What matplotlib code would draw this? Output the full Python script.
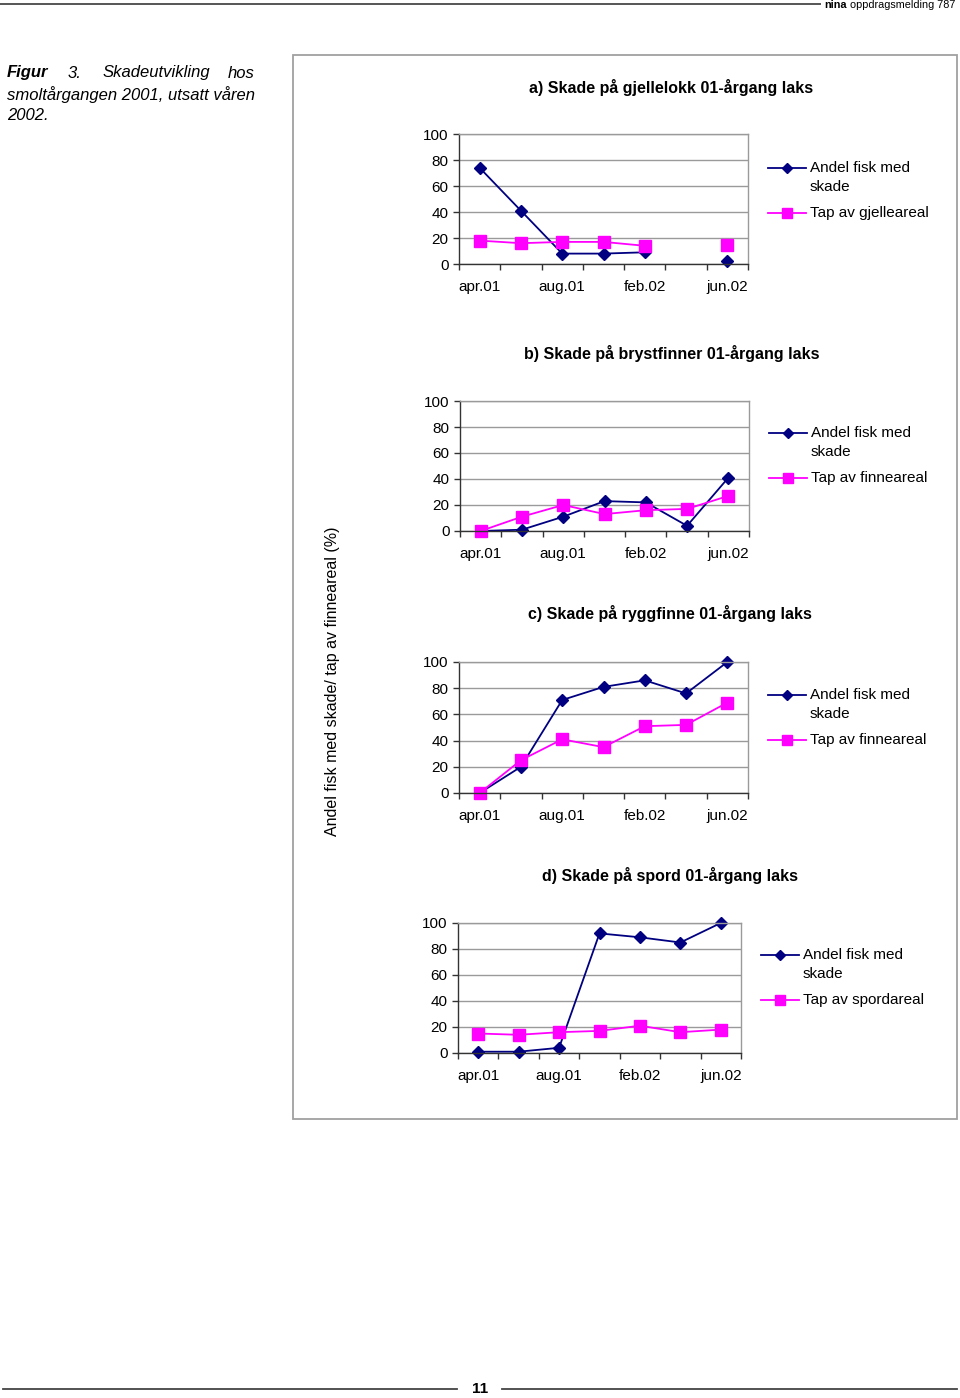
import matplotlib
matplotlib.use("Agg")
import matplotlib.pyplot as plt
import numpy as np
from matplotlib.patches import Rectangle
from matplotlib.lines import Line2D

plt.rcParams["font.family"] = ["Liberation Sans", "DejaVu Sans"]

W, H = 960, 1398

# ---- data ----
TICK_LABELS = ["apr.01", "", "aug.01", "", "feb.02", "", "jun.02"]
YTICKS = [0, 20, 40, 60, 80, 100]

gjelle_andel = [74, 41, 8, 8, 9, np.nan, 2]
gjelle_tap = [18, 16, 17, 17, 14, np.nan, 15]

bryst_andel = [0, 1, 11, 23, 22, 4, 41]
bryst_tap = [0, 11, 20, 13, 16, 17, 27]

rygg_andel = [0, 20, 71, 81, 86, 76, 100]
rygg_tap = [0, 25, 41, 35, 51, 52, 69]

spord_andel = [1, 1, 4, 92, 89, 85, 100]
spord_tap = [15, 14, 16, 17, 21, 16, 18]

ANDEL_LABEL = ["Andel fisk med", "skade"]

# title, series, tap label, axes box (px), title centre (px), legend (handle x0, text x, y)
PANELS = [
    ("a) Skade på gjellelokk 01-årgang laks", gjelle_andel, gjelle_tap,
     "Tap av gjelleareal", (459, 134, 748, 264), (671, 87), (768, 810, 168)),
    ("b) Skade på brystfinner 01-årgang laks", bryst_andel, bryst_tap,
     "Tap av finneareal", (460, 401, 749, 531), (672, 353), (769, 811, 433)),
    ("c) Skade på ryggfinne 01-årgang laks", rygg_andel, rygg_tap,
     "Tap av finneareal", (459, 662, 748, 793), (670, 614), (768, 810, 695)),
    ("d) Skade på spord 01-årgang laks", spord_andel, spord_tap,
     "Tap av spordareal", (458, 923, 741, 1053), (670, 875), (761, 803, 955)),
]

NAVY = "#000080"
PINK = "#FF00FF"
GRID = "#9a9a9a"


def fx(x):
    return x / W


def fy(y):
    return 1 - y / H


def rect(x0, y0, x1, y1):
    return [x0 / W, 1 - y1 / H, (x1 - x0) / W, (y1 - y0) / H]


def legend_handle(fig, x0, y, color, marker, ms):
    xs = [fx(x0), fx(x0 + 19), fx(x0 + 38)]
    fig.add_artist(Line2D(xs, [fy(y)] * 3, color=color, lw=1.3, marker=marker,
                          markersize=ms, markevery=[1], transform=fig.transFigure))


fig = plt.figure(figsize=(W / 100, H / 100), dpi=100)

# page header / footer
fig.add_artist(Line2D([fx(0), fx(820)], [fy(4), fy(4)], color="#555555", lw=1.4))
fig.text(fx(955), fy(5), "oppdragsmelding 787", ha="right", va="center", fontsize=7.8)
fig.text(fx(847), fy(5), "nina", ha="right", va="center", fontsize=7.8, fontweight="bold")

fig.add_artist(Line2D([fx(3), fx(457)], [fy(1389), fy(1389)], color="#444444", lw=1.3))
fig.add_artist(Line2D([fx(502), fx(957)], [fy(1389), fy(1389)], color="#444444", lw=1.3))
fig.text(fx(480), fy(1389), "11", ha="center", va="center", fontsize=11, fontweight="bold")

# caption
CAP = dict(va="center", fontsize=12, style="italic")
fig.text(fx(7), fy(73), "Figur", ha="left", fontweight="bold", **CAP)
fig.text(fx(68), fy(73), "3.", ha="left", **CAP)
fig.text(fx(103), fy(73), "Skadeutvikling", ha="left", **CAP)
fig.text(fx(255), fy(73), "hos", ha="right", **CAP)
fig.text(fx(7), fy(95), "smoltårgangen 2001, utsatt våren", ha="left", **CAP)
fig.text(fx(7), fy(116), "2002.", ha="left", **CAP)

# outer frame of the chart
fig.add_artist(Rectangle((fx(293), fy(1119)), fx(957) - fx(293), fy(55) - fy(1119),
                         transform=fig.transFigure, fill=False, edgecolor="#a0a0a0", lw=1.3))

fig.text(fx(332), fy(681), "Andel fisk med skade/ tap av finneareal (%)", rotation=90,
         ha="center", va="center", fontsize=11.5)

x = np.arange(len(TICK_LABELS))

for title, andel, tap, tap_label, box, title_xy, leg in PANELS:
    ax = fig.add_axes(rect(*box))
    ax.plot(x, andel, color=NAVY, marker="D", markersize=6.5, lw=1.3, clip_on=False)
    ax.plot(x, tap, color=PINK, marker="s", markersize=8.5, lw=1.3, clip_on=False)

    ax.set_xlim(-0.5, len(x) - 0.5)
    ax.set_ylim(0, 100)
    ax.set_yticks(YTICKS)
    ax.set_yticklabels([str(v) for v in YTICKS], fontsize=11)
    ax.tick_params(axis="y", length=4, width=1, color="#333333", pad=3.5)
    ax.set_xticks(np.arange(len(x) + 1) - 0.5)
    ax.set_xticklabels([])
    ax.tick_params(axis="x", which="major", length=4, width=1, color="#333333")
    ax.set_xticks(x, minor=True)
    ax.set_xticklabels(TICK_LABELS, minor=True, fontsize=11)
    ax.tick_params(axis="x", which="minor", length=0, pad=11.5)

    ax.grid(axis="y", color=GRID, lw=1)
    ax.set_axisbelow(True)
    for s in ("top", "right"):
        ax.spines[s].set_color(GRID)
        ax.spines[s].set_linewidth(1)
    for s in ("left", "bottom"):
        ax.spines[s].set_color("#333333")
        ax.spines[s].set_linewidth(1)

    fig.text(fx(title_xy[0]), fy(title_xy[1]), title, ha="center", va="center",
             fontsize=11.5, fontweight="bold")

    # legend, drawn the way the original spreadsheet laid it out
    hx, tx, ly = leg
    legend_handle(fig, hx, ly, NAVY, "D", 5.5)
    legend_handle(fig, hx, ly + 45, PINK, "s", 6.5)
    fig.text(fx(tx), fy(ly), ANDEL_LABEL[0], ha="left", va="center", fontsize=11)
    fig.text(fx(tx), fy(ly + 19), ANDEL_LABEL[1], ha="left", va="center", fontsize=11)
    fig.text(fx(tx), fy(ly + 45), tap_label, ha="left", va="center", fontsize=11)

fig.savefig("out.png", dpi=100)
